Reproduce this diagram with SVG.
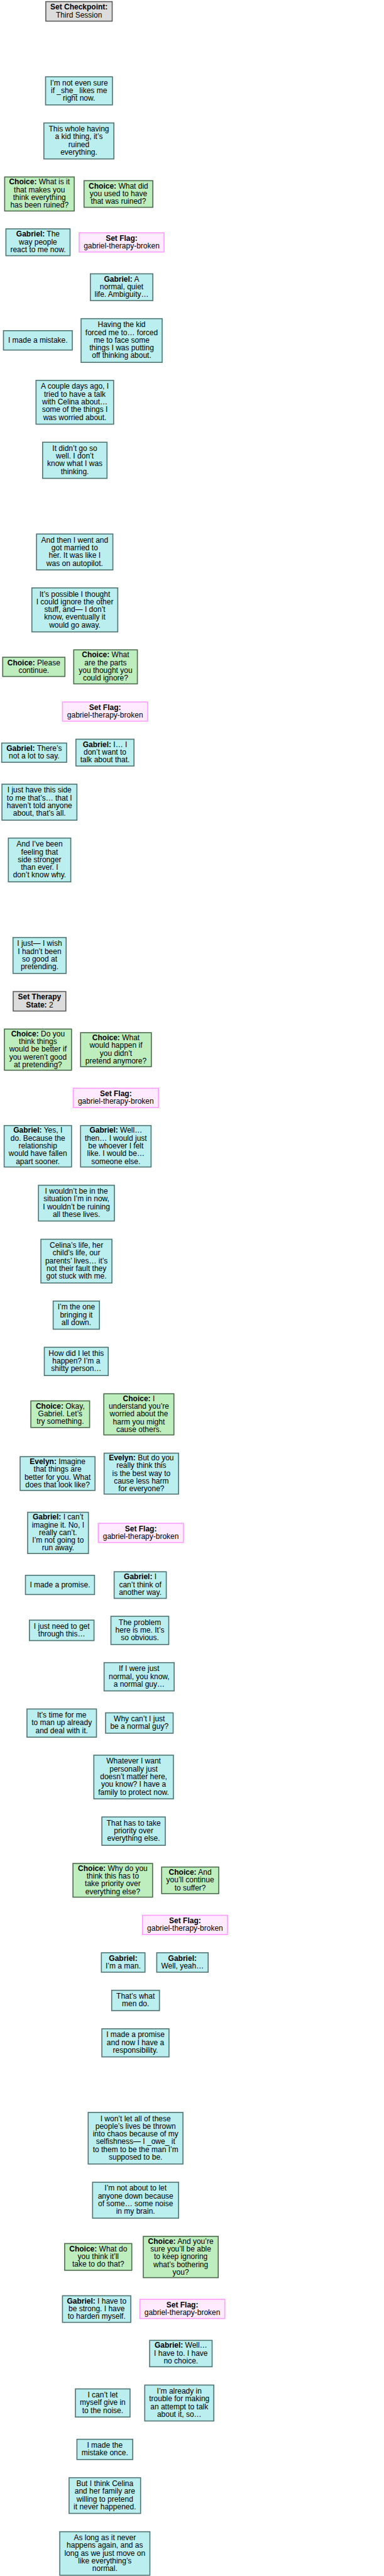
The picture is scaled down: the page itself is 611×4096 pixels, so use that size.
<svg xmlns="http://www.w3.org/2000/svg" width="611" height="4096" viewBox="0 0 611 4096">
<style>
rect{stroke-width:1.6}
.d{fill:#bbeeee;stroke:#4e7474}
.c{fill:#beeebe;stroke:#4b6b4b}
.f{fill:#ffeaff;stroke:#ff9cff}
.s{fill:#dcdcdc;stroke:#5a5a5a}
text{font-family:"Liberation Sans",Arial,sans-serif;font-size:12px;fill:#000;text-anchor:middle}
.b{font-weight:bold}
</style>
<rect width="611" height="4096" fill="#ffffff" stroke="none"/>
<g id="connectors"></g>
<g id="n1"><rect class="s" x="72.9" y="2.6" width="105.6" height="31"/><text><tspan x="125.7" y="15.35" class="b">Set Checkpoint:</tspan><tspan x="125.7" y="27.65">Third Session</tspan></text></g>
<g id="n2"><rect class="d" x="72.5" y="122.1" width="106.4" height="44.7"/><text><tspan x="125.7" y="135.55">I’m not even sure</tspan><tspan x="125.7" y="147.85">if _she_ likes me</tspan><tspan x="125.7" y="160.15">right now.</tspan></text></g>
<g id="n3"><rect class="d" x="69.8" y="195.5" width="111.4" height="57.2"/><text><tspan x="125.5" y="209.05">This whole having</tspan><tspan x="125.5" y="221.35">a kid thing, it’s</tspan><tspan x="125.5" y="233.65">ruined</tspan><tspan x="125.5" y="245.95">everything.</tspan></text></g>
<g id="n4"><rect class="c" x="7.4" y="281.4" width="110.7" height="54.1"/><text><tspan x="62.75" y="293.4"><tspan class="b">Choice:</tspan> What is it</tspan><tspan x="62.75" y="305.7">that makes you</tspan><tspan x="62.75" y="318">think everything</tspan><tspan x="62.75" y="330.3">has been ruined?</tspan></text></g>
<g id="n5"><rect class="c" x="133.7" y="287.3" width="109.5" height="42.3"/><text><tspan x="188.45" y="299.55"><tspan class="b">Choice:</tspan> What did</tspan><tspan x="188.45" y="311.85">you used to have</tspan><tspan x="188.45" y="324.15">that was ruined?</tspan></text></g>
<g id="n6"><rect class="d" x="9.4" y="363.9" width="102.1" height="42.7"/><text><tspan x="60.45" y="376.35"><tspan class="b">Gabriel:</tspan> The</tspan><tspan x="60.45" y="388.65">way people</tspan><tspan x="60.45" y="400.95">react to me now.</tspan></text></g>
<g id="n7"><rect class="f" x="125.9" y="370.2" width="135.2" height="30.5"/><text><tspan x="193.5" y="382.7" class="b">Set Flag:</tspan><tspan x="193.5" y="395">gabriel-therapy-broken</tspan></text></g>
<g id="n8"><rect class="d" x="143.8" y="435.4" width="99.4" height="42.5"/><text><tspan x="193.5" y="447.75"><tspan class="b">Gabriel:</tspan> A</tspan><tspan x="193.5" y="460.05">normal, quiet</tspan><tspan x="193.5" y="472.35">life. Ambiguity…</tspan></text></g>
<g id="n9"><rect class="d" x="5.5" y="525.8" width="109.5" height="30.8"/><text><tspan x="60.25" y="544.6">I made a mistake.</tspan></text></g>
<g id="n10"><rect class="d" x="129" y="506.7" width="129" height="69.5"/><text><tspan x="193.5" y="520.25">Having the kid</tspan><tspan x="193.5" y="532.55">forced me to… forced</tspan><tspan x="193.5" y="544.85">me to face some</tspan><tspan x="193.5" y="557.15">things I was putting</tspan><tspan x="193.5" y="569.45">off thinking about.</tspan></text></g>
<g id="n11"><rect class="d" x="57.3" y="604.8" width="123.5" height="69.7"/><text><tspan x="119.05" y="618.45">A couple days ago, I</tspan><tspan x="119.05" y="630.75">tried to have a talk</tspan><tspan x="119.05" y="643.05">with Celina about…</tspan><tspan x="119.05" y="655.35">some of the things I</tspan><tspan x="119.05" y="667.65">was worried about.</tspan></text></g>
<g id="n12"><rect class="d" x="67.8" y="703.2" width="102.5" height="57.4"/><text><tspan x="119.05" y="716.85">It didn’t go so</tspan><tspan x="119.05" y="729.15">well. I don’t</tspan><tspan x="119.05" y="741.45">know what I was</tspan><tspan x="119.05" y="753.75">thinking.</tspan></text></g>
<g id="n13"><rect class="d" x="58.1" y="849.1" width="121.5" height="57.1"/><text><tspan x="118.85" y="862.6">And then I went and</tspan><tspan x="118.85" y="874.9">got married to</tspan><tspan x="118.85" y="887.2">her. It was like I</tspan><tspan x="118.85" y="899.5">was on autopilot.</tspan></text></g>
<g id="n14"><rect class="d" x="50.7" y="934.8" width="136.7" height="69.9"/><text><tspan x="119.05" y="948.55">It’s possible I thought</tspan><tspan x="119.05" y="960.85">I could ignore the other</tspan><tspan x="119.05" y="973.15">stuff, and— I don’t</tspan><tspan x="119.05" y="985.45">know, eventually it</tspan><tspan x="119.05" y="997.75">would go away.</tspan></text></g>
<g id="n15"><rect class="c" x="4.3" y="1045.1" width="99" height="30.5"/><text><tspan x="53.8" y="1057.6"><tspan class="b">Choice:</tspan> Please</tspan><tspan x="53.8" y="1069.9">continue.</tspan></text></g>
<g id="n16"><rect class="c" x="117.3" y="1033.3" width="101.3" height="54.1"/><text><tspan x="167.95" y="1045.3"><tspan class="b">Choice:</tspan> What</tspan><tspan x="167.95" y="1057.6">are the parts</tspan><tspan x="167.95" y="1069.9">you thought you</tspan><tspan x="167.95" y="1082.2">could ignore?</tspan></text></g>
<g id="n17"><rect class="f" x="99.4" y="1116.2" width="135.6" height="30.5"/><text><tspan x="167.2" y="1128.7" class="b">Set Flag:</tspan><tspan x="167.2" y="1141">gabriel-therapy-broken</tspan></text></g>
<g id="n18"><rect class="d" x="2.7" y="1181.5" width="103.3" height="30.6"/><text><tspan x="54.35" y="1194.05"><tspan class="b">Gabriel:</tspan> There’s</tspan><tspan x="54.35" y="1206.35">not a lot to say.</tspan></text></g>
<g id="n19"><rect class="d" x="120.8" y="1175.4" width="92.4" height="42.6"/><text><tspan x="167" y="1187.8"><tspan class="b">Gabriel:</tspan> I… I</tspan><tspan x="167" y="1200.1">don’t want to</tspan><tspan x="167" y="1212.4">talk about that.</tspan></text></g>
<g id="n20"><rect class="d" x="3.1" y="1246.9" width="119.3" height="57.2"/><text><tspan x="62.75" y="1260.45">I just have this side</tspan><tspan x="62.75" y="1272.75">to me that’s… that I</tspan><tspan x="62.75" y="1285.05">haven’t told anyone</tspan><tspan x="62.75" y="1297.35">about, that’s all.</tspan></text></g>
<g id="n21"><rect class="d" x="13.3" y="1332.6" width="99.3" height="69.6"/><text><tspan x="62.95" y="1346.2">And I’ve been</tspan><tspan x="62.95" y="1358.5">feeling that</tspan><tspan x="62.95" y="1370.8">side stronger</tspan><tspan x="62.95" y="1383.1">than ever. I</tspan><tspan x="62.95" y="1395.4">don’t know why.</tspan></text></g>
<g id="n22"><rect class="d" x="20.7" y="1490.7" width="84.5" height="57.1"/><text><tspan x="62.95" y="1504.2">I just— I wish</tspan><tspan x="62.95" y="1516.5">I hadn’t been</tspan><tspan x="62.95" y="1528.8">so good at</tspan><tspan x="62.95" y="1541.1">pretending.</tspan></text></g>
<g id="n23"><rect class="s" x="21" y="1576.6" width="83.8" height="31"/><text><tspan x="62.9" y="1589.35" class="b">Set Therapy</tspan><tspan x="62.9" y="1601.65"><tspan class="b">State:</tspan> 2</tspan></text></g>
<g id="n24"><rect class="c" x="7" y="1636.3" width="106.8" height="65.4"/><text><tspan x="60.4" y="1647.8"><tspan class="b">Choice:</tspan> Do you</tspan><tspan x="60.4" y="1660.1">think things</tspan><tspan x="60.4" y="1672.4">would be better if</tspan><tspan x="60.4" y="1684.7">you weren’t good</tspan><tspan x="60.4" y="1697">at pretending?</tspan></text></g>
<g id="n25"><rect class="c" x="128.2" y="1642" width="112.6" height="54.1"/><text><tspan x="184.5" y="1654"><tspan class="b">Choice:</tspan> What</tspan><tspan x="184.5" y="1666.3">would happen if</tspan><tspan x="184.5" y="1678.6">you didn’t</tspan><tspan x="184.5" y="1690.9">pretend anymore?</tspan></text></g>
<g id="n26"><rect class="f" x="116.5" y="1730.4" width="135.6" height="30.8"/><text><tspan x="184.3" y="1743.05" class="b">Set Flag:</tspan><tspan x="184.3" y="1755.35">gabriel-therapy-broken</tspan></text></g>
<g id="n27"><rect class="d" x="6.6" y="1789.7" width="107.2" height="65.9"/><text><tspan x="60.2" y="1801.45"><tspan class="b">Gabriel:</tspan> Yes, I</tspan><tspan x="60.2" y="1813.75">do. Because the</tspan><tspan x="60.2" y="1826.05">relationship</tspan><tspan x="60.2" y="1838.35">would have fallen</tspan><tspan x="60.2" y="1850.65">apart sooner.</tspan></text></g>
<g id="n28"><rect class="d" x="128.2" y="1789.7" width="112.2" height="65.9"/><text><tspan x="184.3" y="1801.45"><tspan class="b">Gabriel:</tspan> Well…</tspan><tspan x="184.3" y="1813.75">then… I would just</tspan><tspan x="184.3" y="1826.05">be whoever I felt</tspan><tspan x="184.3" y="1838.35">like. I would be…</tspan><tspan x="184.3" y="1850.65">someone else.</tspan></text></g>
<g id="n29"><rect class="d" x="61.2" y="1884.6" width="120.8" height="56.9"/><text><tspan x="121.6" y="1898">I wouldn’t be in the</tspan><tspan x="121.6" y="1910.3">situation I’m in now,</tspan><tspan x="121.6" y="1922.6">I wouldn’t be ruining</tspan><tspan x="121.6" y="1934.9">all these lives.</tspan></text></g>
<g id="n30"><rect class="d" x="65.1" y="1970.5" width="113" height="69.5"/><text><tspan x="121.6" y="1984.05">Celina’s life, her</tspan><tspan x="121.6" y="1996.35">child’s life, our</tspan><tspan x="121.6" y="2008.65">parents’ lives… it’s</tspan><tspan x="121.6" y="2020.95">not their fault they</tspan><tspan x="121.6" y="2033.25">got stuck with me.</tspan></text></g>
<g id="n31"><rect class="d" x="84.6" y="2068.8" width="73.6" height="44.7"/><text><tspan x="121.4" y="2082.25">I’m the one</tspan><tspan x="121.4" y="2094.55">bringing it</tspan><tspan x="121.4" y="2106.85">all down.</tspan></text></g>
<g id="n32"><rect class="d" x="70.5" y="2142.3" width="101.7" height="44.9"/><text><tspan x="121.35" y="2155.85">How did I let this</tspan><tspan x="121.35" y="2168.15">happen? I’m a</tspan><tspan x="121.35" y="2180.45">shitty person…</tspan></text></g>
<g id="n33"><rect class="c" x="49.1" y="2227.5" width="93.5" height="42.3"/><text><tspan x="95.85" y="2239.75"><tspan class="b">Choice:</tspan> Okay,</tspan><tspan x="95.85" y="2252.05">Gabriel. Let’s</tspan><tspan x="95.85" y="2264.35">try something.</tspan></text></g>
<g id="n34"><rect class="c" x="165.2" y="2216.2" width="111.5" height="65.4"/><text><tspan x="220.95" y="2227.7"><tspan class="b">Choice:</tspan> I</tspan><tspan x="220.95" y="2240">understand you’re</tspan><tspan x="220.95" y="2252.3">worried about the</tspan><tspan x="220.95" y="2264.6">harm you might</tspan><tspan x="220.95" y="2276.9">cause others.</tspan></text></g>
<g id="n35"><rect class="d" x="32" y="2316.2" width="119.2" height="53.7"/><text><tspan x="91.6" y="2328"><tspan class="b">Evelyn:</tspan> Imagine</tspan><tspan x="91.6" y="2340.3">that things are</tspan><tspan x="91.6" y="2352.6">better for you. What</tspan><tspan x="91.6" y="2364.9">does that look like?</tspan></text></g>
<g id="n36"><rect class="d" x="165.6" y="2310.6" width="118.5" height="65.1"/><text><tspan x="224.85" y="2321.95"><tspan class="b">Evelyn:</tspan> But do you</tspan><tspan x="224.85" y="2334.25">really think this</tspan><tspan x="224.85" y="2346.55">is the best way to</tspan><tspan x="224.85" y="2358.85">cause less harm</tspan><tspan x="224.85" y="2371.15">for everyone?</tspan></text></g>
<g id="n37"><rect class="d" x="44" y="2404.6" width="96.7" height="65.6"/><text><tspan x="92.35" y="2416.2"><tspan class="b">Gabriel:</tspan> I can’t</tspan><tspan x="92.35" y="2428.5">imagine it. No, I</tspan><tspan x="92.35" y="2440.8">really can’t.</tspan><tspan x="92.35" y="2453.1">I’m not going to</tspan><tspan x="92.35" y="2465.4">run away.</tspan></text></g>
<g id="n38"><rect class="f" x="156.3" y="2422.2" width="135.6" height="30.5"/><text><tspan x="224.1" y="2434.7" class="b">Set Flag:</tspan><tspan x="224.1" y="2447">gabriel-therapy-broken</tspan></text></g>
<g id="n39"><rect class="d" x="40.5" y="2504.8" width="109.9" height="30.6"/><text><tspan x="95.45" y="2523.5">I made a promise.</tspan></text></g>
<g id="n40"><rect class="d" x="181.6" y="2499.2" width="83" height="42.3"/><text><tspan x="223.1" y="2511.45"><tspan class="b">Gabriel:</tspan> I</tspan><tspan x="223.1" y="2523.75">can’t think of</tspan><tspan x="223.1" y="2536.05">another way.</tspan></text></g>
<g id="n41"><rect class="d" x="46.8" y="2576.1" width="102.8" height="32.5"/><text><tspan x="98.2" y="2589.6">I just need to get</tspan><tspan x="98.2" y="2601.9">through this…</tspan></text></g>
<g id="n42"><rect class="d" x="176.5" y="2570" width="92" height="44.9"/><text><tspan x="222.5" y="2583.55">The problem</tspan><tspan x="222.5" y="2595.85">here is me. It’s</tspan><tspan x="222.5" y="2608.15">so obvious.</tspan></text></g>
<g id="n43"><rect class="d" x="165.6" y="2643.7" width="111.5" height="44.9"/><text><tspan x="221.35" y="2657.25">If I were just</tspan><tspan x="221.35" y="2669.55">normal, you know,</tspan><tspan x="221.35" y="2681.85">a normal guy…</tspan></text></g>
<g id="n44"><rect class="d" x="42.9" y="2717.4" width="110.6" height="44.8"/><text><tspan x="98.2" y="2730.9">It’s time for me</tspan><tspan x="98.2" y="2743.2">to man up already</tspan><tspan x="98.2" y="2755.5">and deal with it.</tspan></text></g>
<g id="n45"><rect class="d" x="168" y="2723.5" width="107.5" height="32.4"/><text><tspan x="221.75" y="2736.95">Why can’t I just</tspan><tspan x="221.75" y="2749.25">be a normal guy?</tspan></text></g>
<g id="n46"><rect class="d" x="149.3" y="2790.8" width="126.6" height="69.5"/><text><tspan x="212.6" y="2804.35">Whatever I want</tspan><tspan x="212.6" y="2816.65">personally just</tspan><tspan x="212.6" y="2828.95">doesn’t matter here,</tspan><tspan x="212.6" y="2841.25">you know? I have a</tspan><tspan x="212.6" y="2853.55">family to protect now.</tspan></text></g>
<g id="n47"><rect class="d" x="162.1" y="2889.1" width="100.9" height="45.1"/><text><tspan x="212.55" y="2902.75">That has to take</tspan><tspan x="212.55" y="2915.05">priority over</tspan><tspan x="212.55" y="2927.35">everything else.</tspan></text></g>
<g id="n48"><rect class="c" x="116.1" y="2963" width="126.7" height="53.6"/><text><tspan x="179.45" y="2974.75"><tspan class="b">Choice:</tspan> Why do you</tspan><tspan x="179.45" y="2987.05">think this has to</tspan><tspan x="179.45" y="2999.35">take priority over</tspan><tspan x="179.45" y="3011.65">everything else?</tspan></text></g>
<g id="n49"><rect class="c" x="257.2" y="2968.7" width="90.8" height="42.3"/><text><tspan x="302.6" y="2980.95"><tspan class="b">Choice:</tspan> And</tspan><tspan x="302.6" y="2993.25">you’ll continue</tspan><tspan x="302.6" y="3005.55">to suffer?</tspan></text></g>
<g id="n50"><rect class="f" x="226.8" y="3045.4" width="135.2" height="30.6"/><text><tspan x="294.4" y="3057.95" class="b">Set Flag:</tspan><tspan x="294.4" y="3070.25">gabriel-therapy-broken</tspan></text></g>
<g id="n51"><rect class="d" x="161.3" y="3105" width="69.4" height="30.9"/><text><tspan x="196" y="3117.7" class="b">Gabriel:</tspan><tspan x="196" y="3130">I’m a man.</tspan></text></g>
<g id="n52"><rect class="d" x="249.4" y="3105" width="81.8" height="30.9"/><text><tspan x="290.3" y="3117.7" class="b">Gabriel:</tspan><tspan x="290.3" y="3130">Well, yeah…</tspan></text></g>
<g id="n53"><rect class="d" x="177.7" y="3164.7" width="76" height="32.3"/><text><tspan x="215.7" y="3178.1">That’s what</tspan><tspan x="215.7" y="3190.4">men do.</tspan></text></g>
<g id="n54"><rect class="d" x="162.1" y="3225.9" width="106.8" height="44.7"/><text><tspan x="215.5" y="3239.35">I made a promise</tspan><tspan x="215.5" y="3251.65">and now I have a</tspan><tspan x="215.5" y="3263.95">responsibility.</tspan></text></g>
<g id="n55"><rect class="d" x="140.3" y="3358.9" width="150.8" height="82"/><text><tspan x="215.7" y="3372.55">I won’t let all of these</tspan><tspan x="215.7" y="3384.85">people’s lives be thrown</tspan><tspan x="215.7" y="3397.15">into chaos because of my</tspan><tspan x="215.7" y="3409.45">selfishness— I _owe_ it</tspan><tspan x="215.7" y="3421.75">to them to be the man I’m</tspan><tspan x="215.7" y="3434.05">supposed to be.</tspan></text></g>
<g id="n56"><rect class="d" x="147.3" y="3469.9" width="136.8" height="57.1"/><text><tspan x="215.7" y="3483.4">I’m not about to let</tspan><tspan x="215.7" y="3495.7">anyone down because</tspan><tspan x="215.7" y="3508">of some… some noise</tspan><tspan x="215.7" y="3520.3">in my brain.</tspan></text></g>
<g id="n57"><rect class="c" x="102.9" y="3567.4" width="106.8" height="42.5"/><text><tspan x="156.3" y="3579.75"><tspan class="b">Choice:</tspan> What do</tspan><tspan x="156.3" y="3592.05">you think it’ll</tspan><tspan x="156.3" y="3604.35">take to do that?</tspan></text></g>
<g id="n58"><rect class="c" x="228" y="3556" width="119.2" height="65.6"/><text><tspan x="287.6" y="3567.6"><tspan class="b">Choice:</tspan> And you’re</tspan><tspan x="287.6" y="3579.9">sure you’ll be able</tspan><tspan x="287.6" y="3592.2">to keep ignoring</tspan><tspan x="287.6" y="3604.5">what’s bothering</tspan><tspan x="287.6" y="3616.8">you?</tspan></text></g>
<g id="n59"><rect class="d" x="99.4" y="3650.4" width="108.7" height="42.3"/><text><tspan x="153.75" y="3662.65"><tspan class="b">Gabriel:</tspan> I have to</tspan><tspan x="153.75" y="3674.95">be strong. I have</tspan><tspan x="153.75" y="3687.25">to harden myself.</tspan></text></g>
<g id="n60"><rect class="f" x="222.5" y="3656.1" width="135.2" height="30.5"/><text><tspan x="290.1" y="3668.6" class="b">Set Flag:</tspan><tspan x="290.1" y="3680.9">gabriel-therapy-broken</tspan></text></g>
<g id="n61"><rect class="d" x="238.1" y="3721.3" width="99.4" height="42"/><text><tspan x="287.8" y="3733.4"><tspan class="b">Gabriel:</tspan> Well…</tspan><tspan x="287.8" y="3745.7">I have to. I have</tspan><tspan x="287.8" y="3758">no choice.</tspan></text></g>
<g id="n62"><rect class="d" x="120" y="3798.5" width="86.9" height="44.7"/><text><tspan x="163.45" y="3811.95">I can’t let</tspan><tspan x="163.45" y="3824.25">myself give in</tspan><tspan x="163.45" y="3836.55">to the noise.</tspan></text></g>
<g id="n63"><rect class="d" x="230.3" y="3792.4" width="109.9" height="57.1"/><text><tspan x="285.25" y="3805.9">I’m already in</tspan><tspan x="285.25" y="3818.2">trouble for making</tspan><tspan x="285.25" y="3830.5">an attempt to talk</tspan><tspan x="285.25" y="3842.8">about it, so…</tspan></text></g>
<g id="n64"><rect class="d" x="122.4" y="3878.6" width="88.8" height="32.2"/><text><tspan x="166.8" y="3891.95">I made the</tspan><tspan x="166.8" y="3904.25">mistake once.</tspan></text></g>
<g id="n65"><rect class="d" x="109.9" y="3939.7" width="113.8" height="56.8"/><text><tspan x="166.8" y="3953.05">But I think Celina</tspan><tspan x="166.8" y="3965.35">and her family are</tspan><tspan x="166.8" y="3977.65">willing to pretend</tspan><tspan x="166.8" y="3989.95">it never happened.</tspan></text></g>
<g id="n66"><rect class="d" x="95.1" y="4025.6" width="143.4" height="69.2"/><text><tspan x="166.8" y="4039">As long as it never</tspan><tspan x="166.8" y="4051.3">happens again, and as</tspan><tspan x="166.8" y="4063.6">long as we just move on</tspan><tspan x="166.8" y="4075.9">like everything’s</tspan><tspan x="166.8" y="4088.2">normal.</tspan></text></g>
</svg>
